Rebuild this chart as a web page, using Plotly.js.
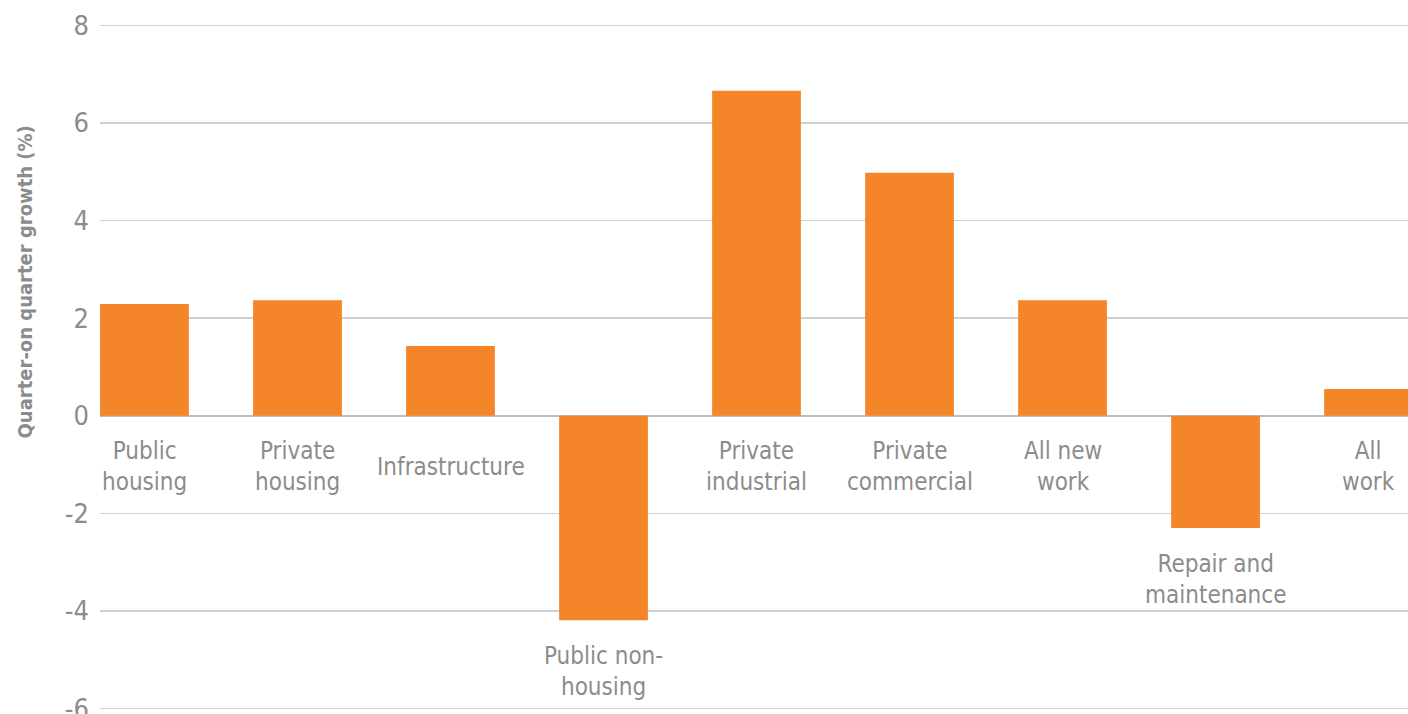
<!DOCTYPE html>
<html>
<head>
<meta charset="utf-8">
<script src="https://cdn.plot.ly/plotly-3.0.1.min.js"></script>
<style>
  html, body { margin: 0; padding: 0; background: #fff; }
  #chart { width: 1408px; height: 714px; }
</style>
</head>
<body>
<div id="chart"></div>
<script>
// Data
const categories = [
  "Public housing", "Private housing", "Infrastructure", "Public non-housing",
  "Private industrial", "Private commercial", "All new work",
  "Repair and maintenance", "All work"
];
const labelText = [
  "Public<br>housing", "Private<br>housing", "Infrastructure", "Public non-<br>housing",
  "Private<br>industrial", "Private<br>commercial", "All new<br>work",
  "Repair and<br>maintenance", "All<br>work"
];
const growth = [2.29, 2.37, 1.43, -4.19, 6.66, 4.98, 2.37, -2.30, 0.55];
const yTicks = [-6, -4, -2, 0, 2, 4, 6, 8];
const yTitle = "Quarter-on quarter growth (%)";

const FONT = '"DejaVu Sans Condensed", "Liberation Sans Narrow", sans-serif';
const GRAY = '#8c8c8c';

const trace = {
  type: 'bar',
  x: categories,
  y: growth,
  width: 0.58,
  marker: { color: '#F48528', line: { width: 0 } },
  hoverinfo: 'x+y'
};

const annotations = categories.map((c, i) => ({
  x: c,
  y: Math.min(0, growth[i]),
  xref: 'x', yref: 'y',
  text: labelText[i],
  showarrow: false,
  xanchor: 'center',
  yanchor: 'middle',
  yshift: -51,
  align: 'center',
  font: { family: FONT, size: 24, color: GRAY }
}));

annotations.push({
  xref: 'paper', yref: 'paper',
  x: -0.0573, y: 0.623,
  xanchor: 'center', yanchor: 'middle',
  text: '<b>' + yTitle + '</b>',
  textangle: -90,
  showarrow: false,
  font: { family: FONT, size: 20, color: GRAY }
});

const layout = {
  width: 1408,
  height: 714,
  margin: { l: 100, r: 0, t: 23, b: 3, pad: 0 },
  paper_bgcolor: '#ffffff',
  plot_bgcolor: '#ffffff',
  showlegend: false,
  xaxis: {
    type: 'category',
    range: [-0.2908, 8.258],
    showticklabels: false,
    showgrid: false,
    zeroline: false,
    showline: false,
    ticks: ''
  },
  yaxis: {
    range: [-6.05, 8.05],
    tickvals: yTicks,
    ticktext: yTicks.map(String),
    showgrid: true,
    gridcolor: '#d0d0d0',
    gridwidth: 1.5,
    zeroline: true,
    zerolinecolor: '#bdbdbd',
    zerolinewidth: 2.5,
    showline: false,
    ticks: '',
    ticklabelstandoff: 10,
    ticklabeloverflow: 'allow',
    tickfont: { family: FONT, size: 27, color: GRAY }
  },
  annotations: annotations
};

Plotly.newPlot('chart', [trace], layout, { displayModeBar: false, staticPlot: true });
</script>
</body>
</html>
